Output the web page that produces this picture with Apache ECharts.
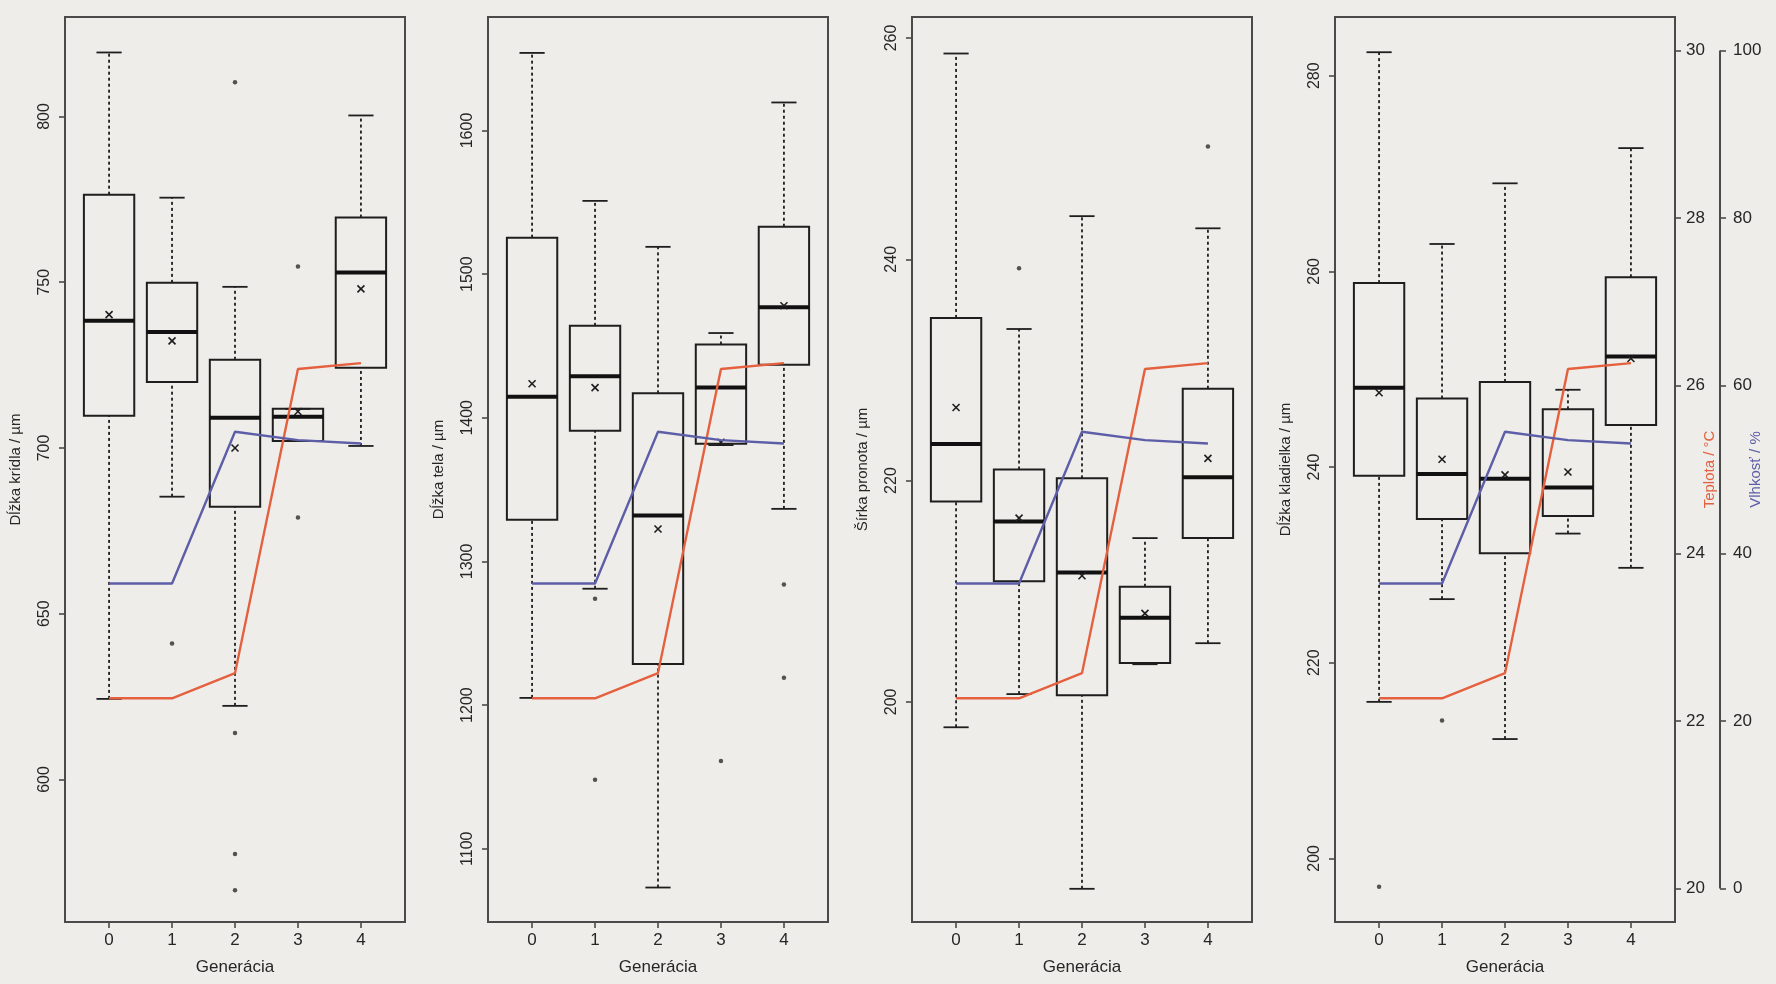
<!DOCTYPE html>
<html><head><meta charset="utf-8">
<script src="https://cdn.jsdelivr.net/npm/echarts@6/dist/echarts.min.js"></script>
<style>html,body{margin:0;padding:0;background:#efede9;}#c{width:1776px;height:984px;}</style>
</head><body><div id="c"></div>
<script>
// ---------- data ----------
const generations = [0, 1, 2, 3, 4];
const generationLabels = ['0', '1', '2', '3', '4'];
const xAxisTitle = 'Generácia';
const panelTitles = ['Dĺžka krídla / µm', 'Dĺžka tela / µm', 'Šírka pronota / µm', 'Dĺžka kladielka / µm'];

// [lower whisker, Q1, median, Q3, upper whisker]
const wingBox = [
  [624.3, 709.7, 738.4, 776.4, 819.3],
  [685.3, 719.9, 735.0, 749.8, 775.5],
  [622.2, 682.3, 709.1, 726.6, 748.6],
  [702.1, 702.1, 709.4, 711.8, 711.8],
  [700.6, 724.2, 752.9, 769.5, 800.3]
];
const wingMean = [740.2, 732.3, 700.0, 711.0, 748.0];
const wingOutliers = [[1, 641.0], [2, 810.3], [2, 614.0], [2, 577.5], [2, 566.6], [3, 754.7], [3, 679.0]];
const wingTicks = [600, 650, 700, 750, 800];

const bodyBox = [
  [1205, 1329, 1414.6, 1525.4, 1654],
  [1281, 1391, 1429, 1464, 1551],
  [1073, 1228.6, 1332, 1417, 1519],
  [1381, 1382, 1421, 1451, 1459],
  [1336.6, 1437, 1477, 1533, 1619.5]
];
const bodyMean = [1423.7, 1421, 1322.6, 1383, 1478];
const bodyOutliers = [[1, 1274], [1, 1148], [3, 1161], [4, 1284], [4, 1219]];
const bodyTicks = [1100, 1200, 1300, 1400, 1500, 1600];

const pronotumBox = [
  [197.7, 218.1, 223.3, 234.7, 258.6],
  [200.7, 210.9, 216.3, 221.0, 233.7],
  [183.1, 200.6, 211.7, 220.2, 243.9],
  [203.4, 203.5, 207.6, 210.4, 214.8],
  [205.3, 214.8, 220.3, 228.3, 242.8]
];
const pronotumMean = [226.6, 216.6, 211.4, 208.0, 222.0];
const pronotumOutliers = [[1, 239.2], [4, 250.2]];
const pronotumTicks = [200, 220, 240, 260];

const ovipositorBox = [
  [216.0, 239.1, 248.1, 258.8, 282.4],
  [226.5, 234.7, 239.3, 247.0, 262.8],
  [212.2, 231.2, 238.8, 248.7, 269.0],
  [233.2, 235.0, 237.9, 245.9, 247.9],
  [229.7, 244.3, 251.3, 259.4, 272.6]
];
const ovipositorMean = [247.6, 240.8, 239.2, 239.5, 251.1];
const ovipositorOutliers = [[0, 197.1], [1, 214.1]];
const ovipositorTicks = [200, 220, 240, 260, 280];

const panelRanges = [[557, 830], [1049, 1679], [180.1, 261.9], [193.5, 286.0]];

const temperature = [22.27, 22.27, 22.57, 26.2, 26.27];
const humidity = [36.4, 36.4, 54.5, 53.5, 53.1];
const temperatureTicks = [20, 22, 24, 26, 28, 30];
const humidityTicks = [0, 20, 40, 60, 80, 100];
const temperatureTitle = 'Teplota / °C';
const humidityTitle = 'Vlhkosť / %';
const temperatureRange = [19.6, 30.4];
const humidityRange = [-4, 104];

// ---------- build ----------
const panels = [
  {box: wingBox, mean: wingMean, out: wingOutliers, ticks: wingTicks},
  {box: bodyBox, mean: bodyMean, out: bodyOutliers, ticks: bodyTicks},
  {box: pronotumBox, mean: pronotumMean, out: pronotumOutliers, ticks: pronotumTicks},
  {box: ovipositorBox, mean: ovipositorMean, out: ovipositorOutliers, ticks: ovipositorTicks}
];
const lefts = [65, 488, 912, 1335];
const gridW = 340, gridTop = 17, gridH = 905;
const xMin = -0.7, xMax = 4.7;
const FONT = 'Liberation Sans, Arial, sans-serif';
const INK = '#1e1e1e';
const TXT = '#262626';
const FRAME = '#4a4a4a';
const RED = '#e4603e';
const BLUE = '#5d5ea8';
const plain = v => String(v);

function renderBox(params, api) {
  const x = api.value(0);
  const lo = api.coord([x, api.value(1)]);
  const q1 = api.coord([x, api.value(2)]);
  const md = api.coord([x, api.value(3)]);
  const q3 = api.coord([x, api.value(4)]);
  const hi = api.coord([x, api.value(5)]);
  const mn = api.coord([x, api.value(6)]);
  const w = api.size([0.8, 0])[0];
  const cx = lo[0], half = w / 2, cap = w / 4, m = 3.5;
  const solid = {stroke: INK, lineWidth: 1.8, fill: null};
  const dotted = {stroke: INK, lineWidth: 1.8, lineDash: [3, 3], fill: null};
  return {type: 'group', children: [
    {type: 'line', shape: {x1: cx, y1: lo[1], x2: cx, y2: q1[1]}, style: dotted},
    {type: 'line', shape: {x1: cx, y1: q3[1], x2: cx, y2: hi[1]}, style: dotted},
    {type: 'line', shape: {x1: cx - cap, y1: lo[1], x2: cx + cap, y2: lo[1]}, style: solid},
    {type: 'line', shape: {x1: cx - cap, y1: hi[1], x2: cx + cap, y2: hi[1]}, style: solid},
    {type: 'rect', shape: {x: cx - half, y: q3[1], width: w, height: q1[1] - q3[1]}, style: {stroke: INK, lineWidth: 2, fill: null}},
    {type: 'line', shape: {x1: cx - half, y1: md[1], x2: cx + half, y2: md[1]}, style: {stroke: '#111', lineWidth: 4}},
    {type: 'line', shape: {x1: mn[0] - m, y1: mn[1] - m, x2: mn[0] + m, y2: mn[1] + m}, style: {stroke: INK, lineWidth: 1.6}},
    {type: 'line', shape: {x1: mn[0] - m, y1: mn[1] + m, x2: mn[0] + m, y2: mn[1] - m}, style: {stroke: INK, lineWidth: 1.6}}
  ]};
}

const grid = [], xAxis = [], yAxis = [], series = [];
panels.forEach((p, i) => {
  grid.push({left: lefts[i], top: gridTop, width: gridW, height: gridH, show: true,
    borderColor: FRAME, borderWidth: 2, backgroundColor: 'transparent'});
  xAxis.push({type: 'value', gridIndex: i, min: xMin, max: xMax, position: 'bottom',
    axisLine: {show: false, onZero: false}, splitLine: {show: false},
    axisTick: {show: true, length: 6, customValues: generations, lineStyle: {color: FRAME, width: 1.6}},
    axisLabel: {customValues: generations, formatter: v => generationLabels[generations.indexOf(v)],
      color: TXT, fontSize: 17, fontFamily: FONT, margin: 10},
    name: xAxisTitle, nameLocation: 'middle', nameGap: 37,
    nameTextStyle: {color: TXT, fontSize: 17, fontFamily: FONT}});
  // left value axis
  yAxis.push({type: 'value', gridIndex: i, position: 'left', min: panelRanges[i][0], max: panelRanges[i][1],
    axisLine: {show: false, onZero: false}, splitLine: {show: false},
    axisTick: {show: true, length: 6, customValues: p.ticks, lineStyle: {color: FRAME, width: 1.6}},
    axisLabel: {customValues: p.ticks, formatter: plain, rotate: 90, color: TXT, fontSize: 16, fontFamily: FONT, margin: 12},
    name: panelTitles[i], nameLocation: 'middle', nameRotate: 90, nameGap: 42, nameMoveOverlap: false,
    nameTextStyle: {color: TXT, fontSize: 15, fontFamily: FONT}});
  const last = i === panels.length - 1;
  // temperature axis
  yAxis.push({type: 'value', gridIndex: i, position: 'right', show: last,
    min: temperatureRange[0], max: temperatureRange[1],
    axisLine: {show: false, onZero: false}, splitLine: {show: false},
    axisTick: {show: true, length: 6, customValues: temperatureTicks, lineStyle: {color: FRAME, width: 1.6}},
    axisLabel: {customValues: temperatureTicks, formatter: plain, color: TXT, fontSize: 17, fontFamily: FONT, margin: 11},
    name: temperatureTitle, nameLocation: 'middle', nameRotate: 90, nameGap: 27, nameMoveOverlap: false,
    nameTextStyle: {color: RED, fontSize: 15, fontFamily: FONT}});
  // humidity axis
  yAxis.push({type: 'value', gridIndex: i, position: 'right', offset: 45, show: last,
    min: humidityRange[0], max: humidityRange[1],
    axisLine: {show: false, onZero: false}, splitLine: {show: false},
    axisTick: {show: true, length: 6, customValues: humidityTicks, lineStyle: {color: FRAME, width: 1.6}},
    axisLabel: {customValues: humidityTicks, formatter: plain, color: TXT, fontSize: 17, fontFamily: FONT, margin: 13},
    name: humidityTitle, nameLocation: 'middle', nameRotate: 90, nameGap: 28, nameMoveOverlap: false,
    nameTextStyle: {color: BLUE, fontSize: 15, fontFamily: FONT}});

  series.push({type: 'custom', xAxisIndex: i, yAxisIndex: 3 * i, z: 2, silent: true,
    renderItem: renderBox, encode: {x: 0, y: [1, 2, 3, 4, 5, 6]},
    data: p.box.map((b, g) => [generations[g], ...b, p.mean[g]])});
  series.push({type: 'scatter', xAxisIndex: i, yAxisIndex: 3 * i, z: 2, silent: true,
    symbolSize: 4.5, itemStyle: {color: '#2a2a2a'}, data: p.out});
  series.push({type: 'line', xAxisIndex: i, yAxisIndex: 3 * i + 1, z: 3, silent: true,
    showSymbol: false, lineStyle: {color: RED, width: 2.4},
    data: generations.map((g, k) => [g, temperature[k]])});
  series.push({type: 'line', xAxisIndex: i, yAxisIndex: 3 * i + 2, z: 3, silent: true,
    showSymbol: false, lineStyle: {color: BLUE, width: 2.4},
    data: generations.map((g, k) => [g, humidity[k]])});
  if (last) {
    // humidity axis line spanning first to last tick
    series.push({type: 'custom', xAxisIndex: i, yAxisIndex: 3 * i + 2, z: 3, silent: true, clip: false,
      renderItem: (params, api) => {
        const a = api.coord([xMax, humidityTicks[0]]);
        const b = api.coord([xMax, humidityTicks[humidityTicks.length - 1]]);
        return {type: 'line', shape: {x1: a[0] + 45, y1: a[1], x2: b[0] + 45, y2: b[1]},
          style: {stroke: FRAME, lineWidth: 2}};
      },
      data: [[xMax, humidityTicks[0]]]});
  }
});

const chart = echarts.init(document.getElementById('c'), null, {renderer: 'canvas'});
chart.setOption({backgroundColor: '#efede9', animation: false, grid, xAxis, yAxis, series});
</script></body></html>
